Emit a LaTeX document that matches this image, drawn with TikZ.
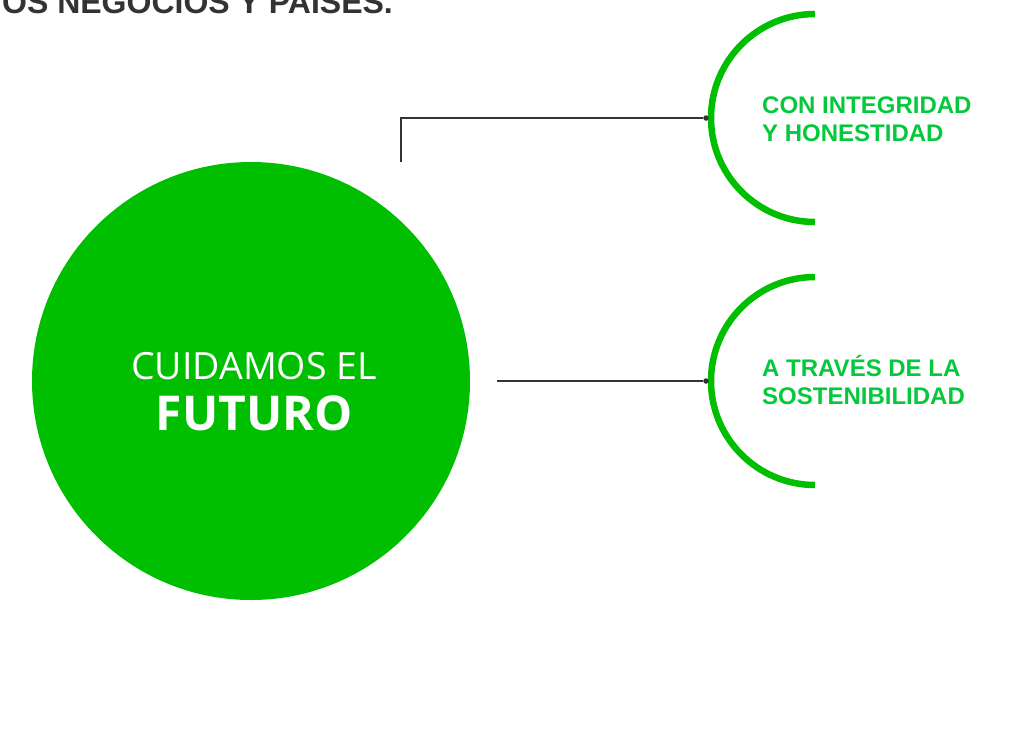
\documentclass[tikz,border=0pt]{standalone}
\usepackage{fontspec}
\setmainfont{Liberation Sans}
\newfontfamily\opensans{Open Sans}
\definecolor{futgreen}{HTML}{00BE00}
\definecolor{txtgreen}{HTML}{05C83C}
\definecolor{darkgrey}{HTML}{333333}
\tikzset{
  bigcircle/.style={circle, fill=futgreen, minimum size=438pt, inner sep=0pt},
  motto/.style={text=white, align=center, inner sep=0pt, anchor=base},
  halfring/.style={futgreen, line width=6.5pt},
  link/.style={darkgrey, line width=1.2pt},
  joint/.style={circle, fill=darkgrey, minimum size=5.5pt, inner sep=0pt},
  label/.style={text=txtgreen, anchor=base west, align=left, inner sep=0pt,
    font=\bfseries\fontsize{24}{28}\selectfont}
}
\begin{document}
\begin{tikzpicture}[x=1pt, y=-1pt]
      \useasboundingbox (0, 0) rectangle (1021, 748);
      \node[anchor=base east, inner sep=0pt, text=darkgrey,
        font=\bfseries\fontsize{32}{36}\selectfont] (head) at (393, 13) {OS NEGOCIOS Y PAÍSES.};
      \node[bigcircle] (futuro) at (251, 381) {};
      \node[motto, font=\opensans\fontsize{37.5}{52}\selectfont] (cuidamos) at (254, 379) {CUIDAMOS EL};
      \node[motto, font=\opensans\bfseries\fontsize{48}{52}\selectfont] (lema) at (254, 430) {FUTURO};
      \draw[halfring] (815, 14) arc[start angle=90, end angle=270, radius=104pt];
      \draw[halfring] (815, 277) arc[start angle=90, end angle=270, radius=104pt];
      \node[joint] (dot1) at (706, 118) {};
      \node[joint] (dot2) at (706, 381) {};
      \coordinate (tick) at (401, 162);
      \coordinate (stub) at (497, 381);
      \draw[link] (tick) |- (dot1);
      \draw[link] (stub) to (dot2);
      \node[label] (integridad) at (762, 141) {CON INTEGRIDAD\\Y HONESTIDAD};
      \node[label] (sostenible) at (762, 404) {A TRAVÉS DE LA\\SOSTENIBILIDAD};
    \end{tikzpicture}
\end{document}
